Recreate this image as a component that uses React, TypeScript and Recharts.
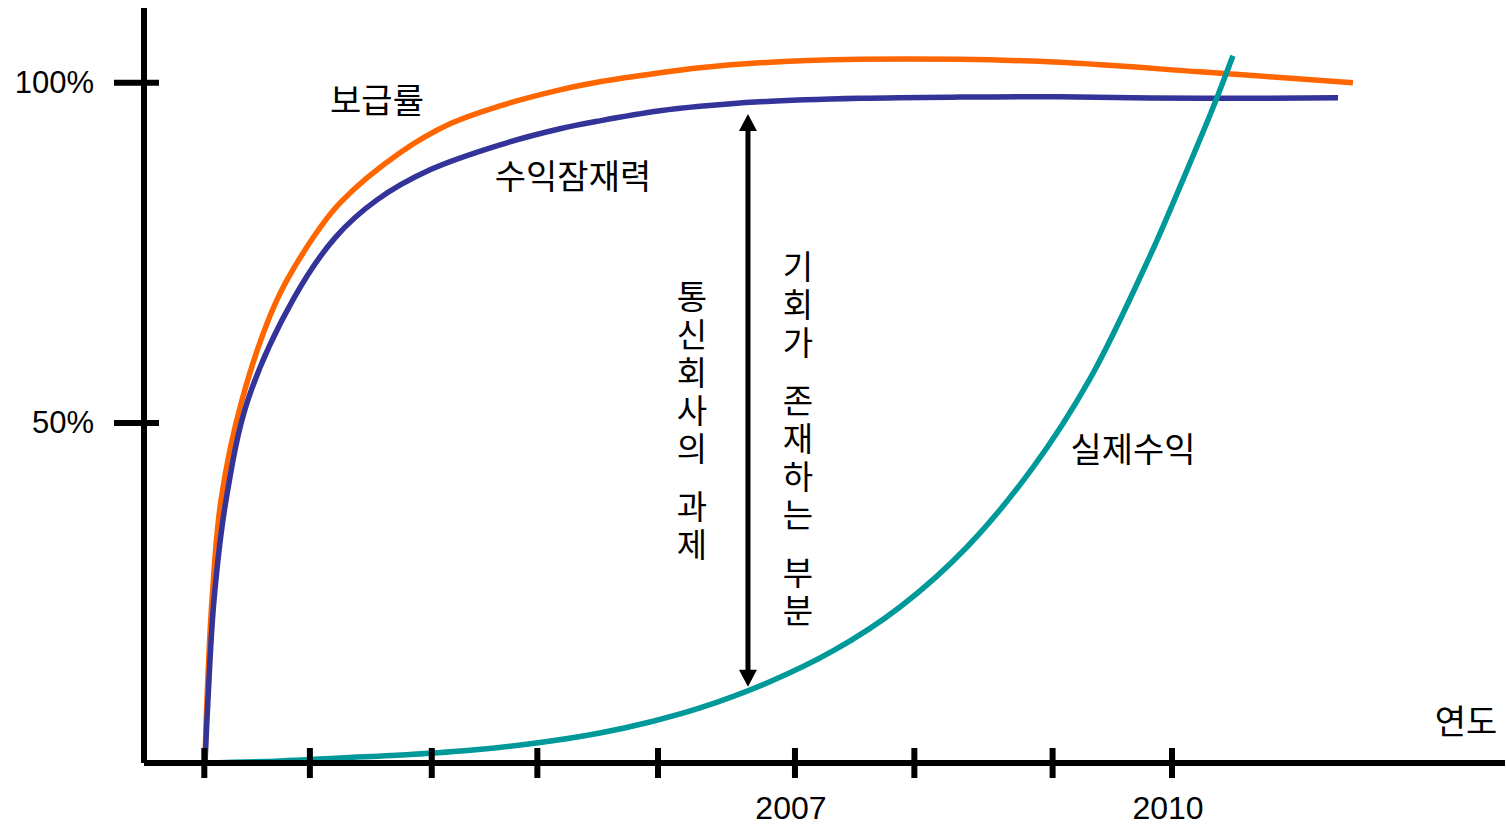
import React from "react";
import { LineChart, Line, XAxis, YAxis, ReferenceLine, Customized } from "recharts";

/* ── data ─────────────────────────────────────────────────────────────────── */

// 보급률 (penetration)
const penetrationYears = [
  2002.305, 2002.321, 2002.361, 2002.433, 2002.6, 2002.878, 2003.165, 2003.38, 2003.857,
  2004.255, 2004.653, 2005.13, 2005.448, 2005.926, 2006.244, 2006.721, 2007.517, 2008.313,
  2009.109, 2010.223, 2011.44,
];
const penetrationPct = [
  0, 9.26, 23.97, 38.68, 53.38, 68.09, 77.21, 82.35, 89.71, 93.97, 96.62, 98.97, 100.15, 101.47,
  102.21, 102.94, 103.46, 103.46, 103.01, 101.62, 100,
];

// 수익잠재력 (revenue potential)
const potentialYears = [
  2002.305, 2002.329, 2002.377, 2002.473, 2002.647, 2003.005, 2003.34, 2003.674, 2004.096,
  2004.653, 2005.13, 2005.448, 2005.926, 2006.244, 2006.721, 2007.517, 2008.313, 2009.109,
  2010.223, 2011.321,
];
const potentialPct = [
  0, 9.26, 23.97, 38.68, 53.38, 68.09, 77.21, 82.79, 87.21, 90.88, 93.24, 94.41, 95.88, 96.54,
  97.21, 97.72, 97.9, 97.94, 97.72, 97.79,
];

// 실제수익 (actual revenue)
const actualYears = [
  2002.305, 2002.902, 2003.38, 2003.936, 2004.438, 2004.971, 2005.448, 2005.846, 2006.244,
  2006.777, 2007.302, 2007.836, 2008.369, 2008.894, 2009.347, 2009.825, 2010.087, 2010.326,
  2010.485,
];
const actualPct = [
  0, 0.29, 0.74, 1.25, 1.91, 3.01, 4.41, 6.03, 8.09, 11.76, 16.47, 22.94, 31.76, 43.46, 56.47,
  74.56, 85.74, 96.32, 103.97,
];

// gap arrow between the two curves
const gapYear = 2006.626;
const gapFrom = 11.2;
const gapTo = 95.4;

// axis ticks
const xTickYears = [2002.3, 2003.14, 2004.11, 2004.95, 2005.91, 2007, 2007.95, 2009.05, 2010];
const xTickLabels = ["", "", "", "", "", "2007", "", "", "2010"];
const yTicks = [50, 100];
const yTickLabels = ["50%", "100%"];

const toRows = (years: number[], values: number[]) =>
  years.map((year, i) => ({ year, value: values[i] }));

/* ── curve: centripetal Catmull-Rom (copes with the near-vertical start) ─── */

type Pt = [number, number];

function catmullRom(ctx: any) {
  let pts: Pt[] = [];
  const len = (a: Pt, b: Pt) => Math.sqrt(Math.hypot(b[0] - a[0], b[1] - a[1]));
  return {
    areaStart() {},
    areaEnd() {},
    lineStart() {
      pts = [];
    },
    point(x: number, y: number) {
      pts.push([+x, +y]);
    },
    lineEnd() {
      if (!pts.length) return;
      ctx.moveTo(pts[0][0], pts[0][1]);
      for (let i = 0; i < pts.length - 1; i++) {
        const p0 = pts[i - 1] ?? pts[i];
        const p1 = pts[i];
        const p2 = pts[i + 1];
        const p3 = pts[i + 2] ?? p2;
        const d1 = len(p0, p1);
        const d2 = len(p1, p2);
        const d3 = len(p2, p3);
        let c1: Pt = p1;
        let c2: Pt = p2;
        if (d1 > 1e-6) {
          const a = 2 * d1 * d1 + 3 * d1 * d2 + d2 * d2;
          const n = 3 * d1 * (d1 + d2);
          c1 = [
            (p1[0] * a - p0[0] * d2 * d2 + p2[0] * d1 * d1) / n,
            (p1[1] * a - p0[1] * d2 * d2 + p2[1] * d1 * d1) / n,
          ];
        }
        if (d3 > 1e-6) {
          const b = 2 * d3 * d3 + 3 * d3 * d2 + d2 * d2;
          const m = 3 * d3 * (d3 + d2);
          c2 = [
            (p2[0] * b + p1[0] * d3 * d3 - p3[0] * d2 * d2) / m,
            (p2[1] * b + p1[1] * d3 * d3 - p3[1] * d2 * d2) / m,
          ];
        }
        ctx.bezierCurveTo(c1[0], c1[1], c2[0], c2[1], p2[0], p2[1]);
      }
    },
  };
}

/* ── styling ──────────────────────────────────────────────────────────────── */

const KR = '"Noto Sans CJK KR", "Noto Sans", sans-serif';
const LATIN = '"Liberation Sans", Arial, sans-serif';
const ORANGE = "#FF6600";
const NAVY = "#333399";
const TEAL = "#009999";

function XTick(props: any) {
  const { x, y, index } = props;
  const label = xTickLabels[index] ?? "";
  return (
    <g>
      <line x1={x} x2={x} y1={y - 15} y2={y + 15} stroke="#000" strokeWidth={6} />
      {label && (
        <text
          x={x - 4}
          y={y + 45}
          textAnchor="middle"
          dominantBaseline="central"
          fontFamily={LATIN}
          fontSize={32}
          fill="#000"
        >
          {label}
        </text>
      )}
    </g>
  );
}

function YTick(props: any) {
  const { x, y, index } = props;
  return (
    <g>
      <line x1={x - 30} x2={x + 15} y1={y} y2={y} stroke="#000" strokeWidth={6} />
      <text
        x={x - 50}
        y={y}
        textAnchor="end"
        dominantBaseline="central"
        fontFamily={LATIN}
        fontSize={31}
        fill="#000"
      >
        {yTickLabels[index]}
      </text>
    </g>
  );
}

function DoubleArrow(props: any) {
  const { x1, y1, x2, y2 } = props;
  const top = Math.min(y1, y2);
  const bottom = Math.max(y1, y2);
  const x = (x1 + x2) / 2;
  const head = 17;
  const half = 9;
  return (
    <g>
      <line x1={x} x2={x} y1={top + head - 2} y2={bottom - head + 2} stroke="#000" strokeWidth={5} />
      <polygon points={`${x},${top} ${x - half},${top + head} ${x + half},${top + head}`} fill="#000" />
      <polygon
        points={`${x},${bottom} ${x - half},${bottom - head} ${x + half},${bottom - head}`}
        fill="#000"
      />
    </g>
  );
}

// vertical Korean caption: one glyph per row, a space leaves a short gap
function VerticalText({ x, y, text }: { x: number; y: number; text: string }) {
  const out: React.ReactNode[] = [];
  let cy = y;
  Array.from(text).forEach((ch, i) => {
    if (ch === " ") {
      cy += 20;
      return;
    }
    out.push(
      <text
        key={i}
        x={x}
        y={cy}
        textAnchor="middle"
        dominantBaseline="central"
        fontFamily={KR}
        fontSize={33}
        fill="#000"
      >
        {ch}
      </text>
    );
    cy += 38;
  });
  return <g>{out}</g>;
}

function Annotations() {
  const label = (x: number, y: number, s: string) => (
    <text
      x={x}
      y={y}
      textAnchor="middle"
      dominantBaseline="central"
      fontFamily={KR}
      fontSize={34}
      fill="#000"
    >
      {s}
    </text>
  );
  return (
    <g>
      {label(377, 98, "보급률")}
      {label(573, 174, "수익잠재력")}
      {label(1133, 447, "실제수익")}
      {label(1466, 719, "연도")}
      <VerticalText x={692} y={295} text="통신회사의 과제" />
      <VerticalText x={798} y={265} text="기회가 존재하는 부분" />
    </g>
  );
}

export default function App() {
  return (
    <div style={{ position: "absolute", left: 0, top: 0, background: "#fff" }}>
      <LineChart width={1506} height={829} margin={{ top: 8, right: 1, left: 143, bottom: 65 }}>
        <XAxis
          type="number"
          dataKey="year"
          domain={[2001.82, 2012.65]}
          ticks={xTickYears}
          interval={0}
          allowDataOverflow
          height={1}
          tickSize={0}
          tickMargin={0}
          tickLine={false}
          axisLine={{ stroke: "#000", strokeWidth: 6 }}
          tick={<XTick />}
        />
        <YAxis
          type="number"
          domain={[0, 111]}
          ticks={yTicks}
          interval={0}
          allowDataOverflow
          width={1}
          tickSize={0}
          tickMargin={0}
          tickLine={false}
          axisLine={{ stroke: "#000", strokeWidth: 6 }}
          tick={<YTick />}
        />
        <Line
          data={toRows(penetrationYears, penetrationPct)}
          dataKey="value"
          type={catmullRom as any}
          stroke={ORANGE}
          strokeWidth={5.5}
          dot={false}
          isAnimationActive={false}
        />
        <Line
          data={toRows(potentialYears, potentialPct)}
          dataKey="value"
          type={catmullRom as any}
          stroke={NAVY}
          strokeWidth={5.5}
          dot={false}
          isAnimationActive={false}
        />
        <Line
          data={toRows(actualYears, actualPct)}
          dataKey="value"
          type={catmullRom as any}
          stroke={TEAL}
          strokeWidth={5.5}
          dot={false}
          isAnimationActive={false}
        />
        <ReferenceLine
          segment={[
            { x: gapYear, y: gapFrom },
            { x: gapYear, y: gapTo },
          ]}
          shape={DoubleArrow}
        />
        <Customized component={<Annotations />} />
      </LineChart>
    </div>
  );
}
